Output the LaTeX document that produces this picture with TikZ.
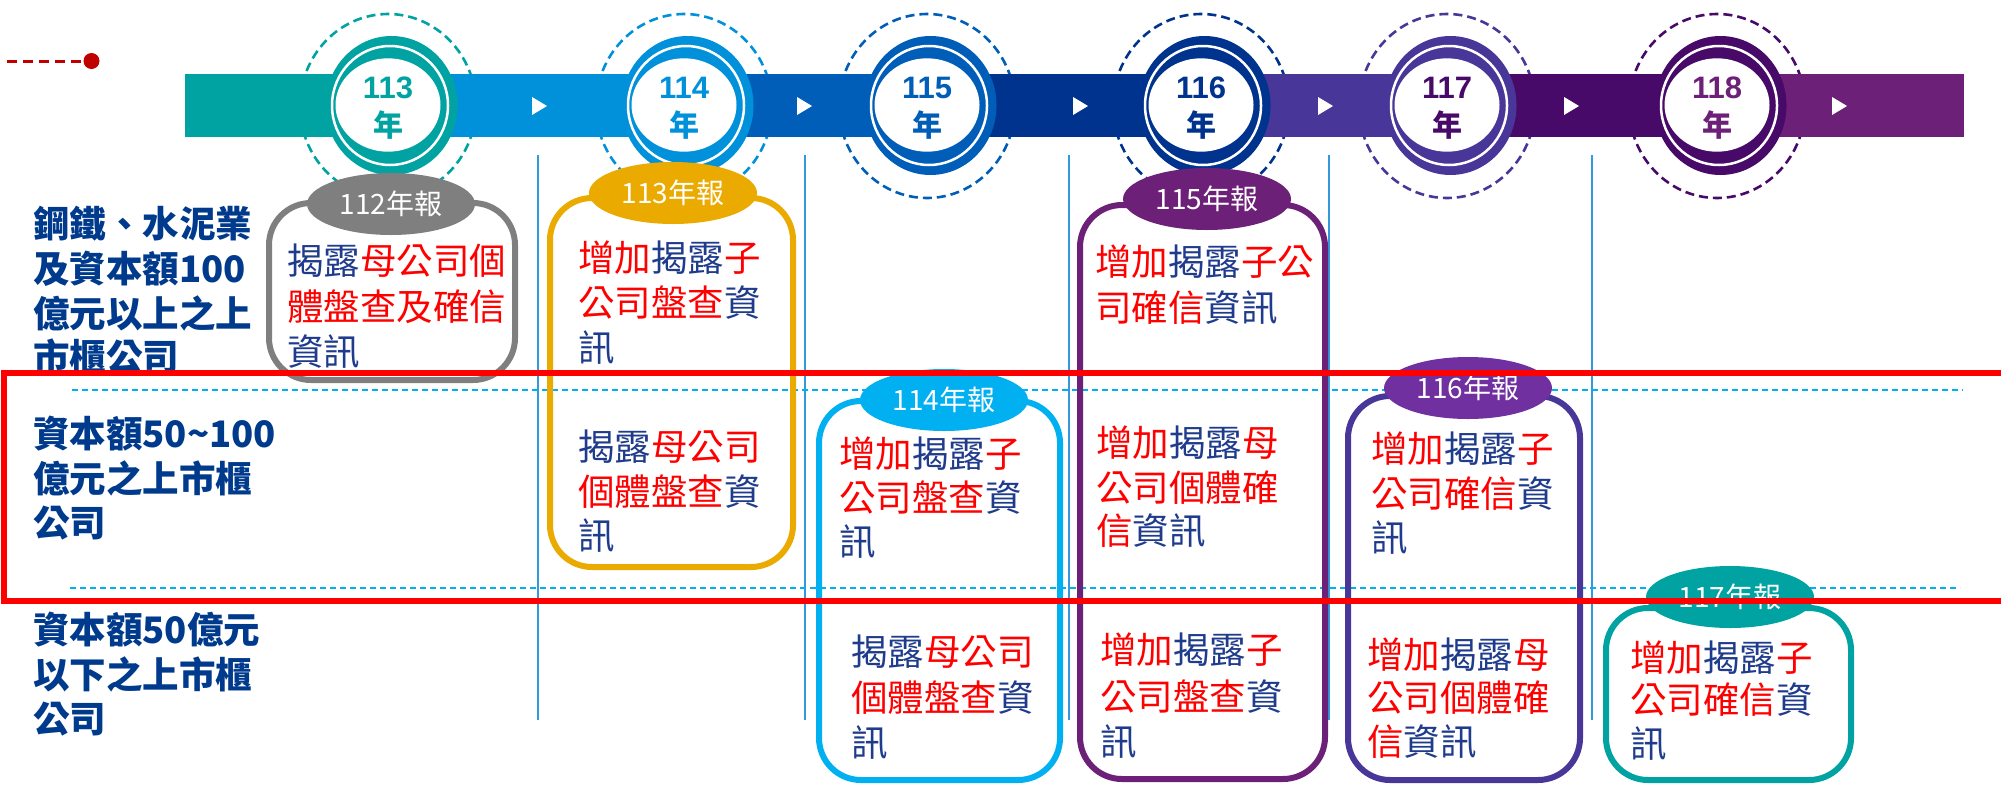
\documentclass[tikz,border=0pt]{standalone}
\usepackage{fontspec}
\newfontfamily\cjk{Noto Sans CJK TC}
\newfontfamily\lsans{Liberation Sans}
\usetikzlibrary{shapes.geometric}
\definecolor{kteal}{HTML}{00A3A1}
\definecolor{klblue}{HTML}{0091DA}
\definecolor{kmblue}{HTML}{005EB8}
\definecolor{kdblue}{HTML}{00338D}
\definecolor{kviolet}{HTML}{483698}
\definecolor{kpurple}{HTML}{470A68}
\definecolor{klpurple}{HTML}{6D2077}
\definecolor{kyellow}{HTML}{EAAA00}
\definecolor{ksky}{HTML}{00B0F0}
\definecolor{kgrey}{HTML}{7F7F7F}
\definecolor{kmag}{HTML}{7030A0}
\definecolor{tred}{HTML}{FF0000}
\definecolor{tblue}{HTML}{1F3B8C}
\definecolor{lblcol}{HTML}{003A8C}
\definecolor{dred}{HTML}{C00000}
\definecolor{sepcol}{HTML}{3399DD}
\newcommand\rd[1]{\textcolor{tred}{#1}}
\newcommand\bl[1]{\textcolor{tblue}{#1}}
\begin{document}
\begin{tikzpicture}[x=1pt,y=-1pt,
  boxtxt/.style={anchor=base west,inner sep=0pt,font=\cjk\fontsize{36.5}{44}\selectfont},
  lbl/.style={anchor=base west,inner sep=0pt,text=lblcol,font=\cjk\bfseries\fontsize{36.5}{44}\selectfont},
  tagnode/.style={ellipse,inner sep=0pt,minimum width=168pt,minimum height=62pt,text=white,font=\cjk\fontsize{28}{30}\selectfont},
  yrnum/.style={anchor=base,inner sep=0pt,font=\lsans\bfseries\fontsize{31}{32}\selectfont},
  yrch/.style={anchor=base,inner sep=0pt,font=\cjk\bfseries\fontsize{30}{32}\selectfont},
  sepline/.style={draw=sepcol,line width=1.5pt},
  rowline/.style={draw=ksky,line width=1.5pt,dash pattern=on 6pt off 4pt},
  card/.style={line width=6pt,rounded corners=42pt},
]
\useasboundingbox (0,0) rectangle (2001,785);
\clip (0,0) rectangle (2001,785);

% dashed halos (behind bar)
\foreach \c/\col in {388/kteal,684/klblue,927/kmblue,1201/kdblue,1447/kviolet,1717/kpurple}
  \draw[\col, line width=2.6pt, dash pattern=on 9pt off 5pt] (\c,106) ellipse [x radius=88pt, y radius=92pt];

% timeline bar
\fill[kteal]    (185,74) rectangle (388,137);
\fill[klblue]   (388,74) rectangle (684,137);
\fill[kmblue]   (684,74) rectangle (927,137);
\fill[kdblue]   (927,74) rectangle (1201,137);
\fill[kviolet]  (1201,74) rectangle (1447,137);
\fill[kpurple]  (1447,74) rectangle (1717,137);
\fill[klpurple] (1717,74) rectangle (1964,137);
\foreach \x in {532,797,1073,1318,1564,1832}
  \fill[white] (\x,97) -- (\x,115) -- (\x+15,106) -- cycle;

% year rings
\foreach \c/\col/\tcol/\yr in {388/kteal/kteal/113,684/klblue/klblue/114,927/kmblue/kmblue/115,1201/kdblue/kdblue/116,1447/kviolet/kpurple/117,1717/kpurple/klpurple/118} {
  \fill[\col] (\c+3.5,105.5) ellipse [x radius=66pt, y radius=69.5pt];
  \draw[white, line width=2.5pt] (\c+2,105.5) ellipse [x radius=58pt, y radius=59.5pt];
  \fill[white] (\c,105) ellipse [x radius=52.5pt, y radius=46.7pt];
  \node[yrnum, text=\tcol] (n\yr) at (\c,98.5) {\yr};
  \node[yrch, text=\tcol] (y\yr) at (\c,136.5) {年};
}

% grid lines
\foreach \x in {538,805,1069,1329,1592}
  \draw[sepline] (\x,155) -- (\x,720);
\draw[rowline] (72,390) -- (1963,390);
\draw[rowline] (70,588) -- (1960,588);

% cards
\draw[card, kgrey]    (269,203) rectangle (515,380);
\draw[card, kyellow]  (550,198) rectangle (793,567);
\draw[card, ksky]     (819,401) rectangle (1060,780);
\draw[card, klpurple] (1080,205) rectangle (1325,779);
\draw[card, kviolet]  (1348,396) rectangle (1580,780);
\draw[card, kteal]    (1606,608) rectangle (1851,780);

% tags
\node[tagnode, fill=kgrey]    (tag112) at (391,204)  {112年報};
\node[tagnode, fill=kyellow]  (tag113) at (673,193)  {113年報};
\node[tagnode, fill=ksky]     (tag114) at (944,400)  {114年報};
\node[tagnode, fill=klpurple] (tag115) at (1207,199) {115年報};
\node[tagnode, fill=kmag]     (tag116) at (1468,388) {116年報};
\node[tagnode, fill=kteal]    (tag117) at (1730,597) {117年報};

% card texts
\node[boxtxt] (a1) at (287,274) {\bl{揭露}\rd{母公司個}};
\node[boxtxt] (a2) at (287,320) {\rd{體盤查及確信}};
\node[boxtxt] (a3) at (287,365) {\bl{資訊}};

\node[boxtxt] (b1) at (578,271) {\rd{增加}\bl{揭露}\rd{子}};
\node[boxtxt] (b2) at (578,316) {\rd{公司盤查}\bl{資}};
\node[boxtxt] (b3) at (578,361) {\bl{訊}};
\node[boxtxt] (b4) at (578,460) {\bl{揭露}\rd{母公司}};
\node[boxtxt] (b5) at (578,505) {\rd{個體盤查}\bl{資}};
\node[boxtxt] (b6) at (578,549) {\bl{訊}};

\node[boxtxt] (c1) at (839,467) {\rd{增加}\bl{揭露}\rd{子}};
\node[boxtxt] (c2) at (839,511) {\rd{公司盤查}\bl{資}};
\node[boxtxt] (c3) at (839,555) {\bl{訊}};
\node[boxtxt] (c4) at (851,665) {\bl{揭露}\rd{母公司}};
\node[boxtxt] (c5) at (851,711) {\rd{個體盤查}\bl{資}};
\node[boxtxt] (c6) at (851,756) {\bl{訊}};

\node[boxtxt] (d1) at (1095,275) {\rd{增加}\bl{揭露}\rd{子公}};
\node[boxtxt] (d2) at (1095,321) {\rd{司確信}\bl{資訊}};
\node[boxtxt] (d3) at (1096,456) {\rd{增加}\bl{揭露}\rd{母}};
\node[boxtxt] (d4) at (1096,501) {\rd{公司個體確}};
\node[boxtxt] (d5) at (1096,544) {\rd{信}\bl{資訊}};
\node[boxtxt] (d6) at (1100,663) {\rd{增加}\bl{揭露}\rd{子}};
\node[boxtxt] (d7) at (1100,710) {\rd{公司盤查}\bl{資}};
\node[boxtxt] (d8) at (1100,755) {\bl{訊}};

\node[boxtxt] (e1) at (1371,462) {\rd{增加}\bl{揭露}\rd{子}};
\node[boxtxt] (e2) at (1371,507) {\rd{公司確信}\bl{資}};
\node[boxtxt] (e3) at (1371,551) {\bl{訊}};
\node[boxtxt] (e4) at (1367,668) {\rd{增加}\bl{揭露}\rd{母}};
\node[boxtxt] (e5) at (1367,711) {\rd{公司個體確}};
\node[boxtxt] (e6) at (1367,755) {\rd{信}\bl{資訊}};

\node[boxtxt] (f1) at (1630,671) {\rd{增加}\bl{揭露}\rd{子}};
\node[boxtxt] (f2) at (1630,713) {\rd{公司確信}\bl{資}};
\node[boxtxt] (f3) at (1630,757) {\bl{訊}};

% row labels
\node[lbl] (l11) at (33,237) {鋼鐵、水泥業};
\node[lbl] (l12) at (33,282) {及資本額100};
\node[lbl] (l13) at (33,327) {億元以上之上};
\node[lbl] (l14) at (33,370) {市櫃公司};
\node[lbl] (l21) at (33,447) {資本額50\textasciitilde100};
\node[lbl] (l22) at (33,492) {億元之上市櫃};
\node[lbl] (l23) at (33,536) {公司};
\node[lbl] (l31) at (33,643) {資本額50億元};
\node[lbl] (l32) at (33,688) {以下之上市櫃};
\node[lbl] (l33) at (33,732) {公司};

% red highlight frame
\draw[tred, line width=6pt] (2010,372.5) -- (3.5,372.5) -- (3.5,601) -- (2010,601);

% red dashed marker
\node[circle, fill=dred, minimum size=16pt, inner sep=0pt] (dot) at (91.5,61) {};
\coordinate (dstart) at (7,61);
\draw[dred, line width=3pt, dash pattern=on 10pt off 6pt] (dstart) -- (dot);
\end{tikzpicture}
\end{document}
